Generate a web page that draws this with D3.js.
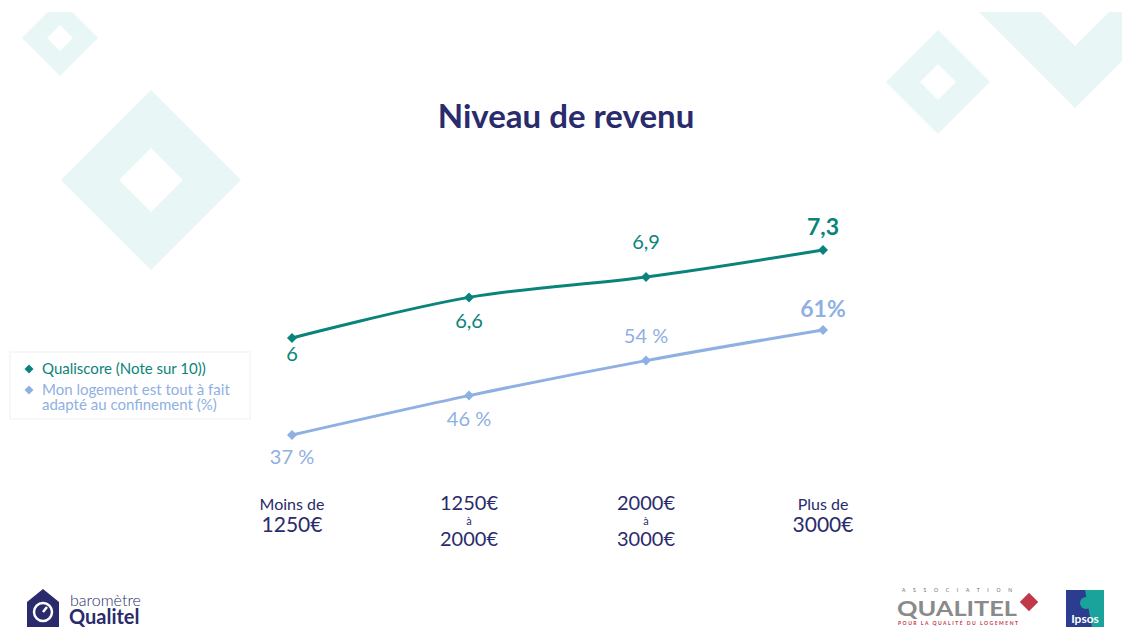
<!DOCTYPE html>
<html>
<head>
<meta charset="utf-8">
<script src="https://cdn.jsdelivr.net/npm/d3@7"></script>
<style>
  body { margin: 0; background: #fff; }
  svg { display: block; font-family: Lato, "Open Sans", sans-serif; }
</style>
</head>
<body>
<svg id="chart" width="1122" height="627"></svg>
<script>
// Data
var categories = ["Moins de|1250€", "1250€|à|2000€", "2000€|à|3000€", "Plus de|3000€"];
var qualiscore = [6, 6.6, 6.9, 7.3];
var qualiscoreLabels = ["6", "6,6", "6,9", "7,3"];
var adapte = [37, 46, 54, 61];
var adapteLabels = ["37 %", "46 %", "54 %", "61%"];
var seriesNames = ["Qualiscore (Note sur 10))", "Mon logement est tout à fait|adapté au confinement (%)"];

var navy = "#2a2b6c", teal = "#0a847a", light = "#8fb0e2", deco = "#e9f6f6";

var svg = d3.select("#chart");

// background decorations (hollow diamonds)
var bg = svg.append("g");
svg.append("defs").append("clipPath").attr("id", "frame")
  .append("rect").attr("x", 0).attr("y", 12).attr("width", 1122).attr("height", 615);
bg.attr("clip-path", "url(#frame)");
function hollow(cx, cy, r, h) {
  var p = "M" + cx + "," + (cy - r) + "L" + (cx + r) + "," + cy + "L" + cx + "," + (cy + r) + "L" + (cx - r) + "," + cy + "Z" +
          "M" + cx + "," + (cy - h) + "L" + (cx - h) + "," + cy + "L" + cx + "," + (cy + h) + "L" + (cx + h) + "," + cy + "Z";
  bg.append("path").attr("d", p).attr("fill", deco).attr("fill-rule", "evenodd");
}
hollow(60, 38, 38, 13);
hollow(151, 180, 90, 32);
hollow(938, 82, 52, 18);
hollow(1075, 10, 98, 36);

// title
svg.append("text")
  .attr("x", 566).attr("y", 128)
  .attr("text-anchor", "middle")
  .attr("font-size", 33).attr("font-weight", "bold")
  .attr("fill", navy)
  .text("Niveau de revenu");

// scales
var x = d3.scalePoint().domain(d3.range(categories.length)).range([292, 823]);
var yQ = d3.scaleLinear().domain([6, 7.3]).range([338, 250]);
var yA = d3.scaleLinear().domain([37, 61]).range([435, 330]);

var line = d3.line().curve(d3.curveCatmullRom);
var diamond = d3.symbol().type(d3.symbolSquare).size(50);

function drawSeries(values, y, color, labels, pos) {
  var pts = values.map(function(v, i) { return [x(i), y(v)]; });
  svg.append("path")
    .attr("d", line(pts))
    .attr("fill", "none")
    .attr("stroke", color)
    .attr("stroke-width", 3);
  svg.append("g").selectAll("path")
    .data(pts)
    .enter().append("path")
      .attr("d", diamond)
      .attr("transform", function(d) { return "translate(" + d[0] + "," + d[1] + ") rotate(45)"; })
      .attr("fill", color);
  svg.append("g").selectAll("text")
    .data(pts)
    .enter().append("text")
      .attr("x", function(d) { return d[0]; })
      .attr("y", function(d, i) { return d[1] + pos[i]; })
      .attr("text-anchor", "middle")
      .attr("font-size", function(d, i) { return i === pts.length - 1 ? 23 : 20; })
      .attr("font-weight", function(d, i) { return i === pts.length - 1 ? "bold" : "normal"; })
      .attr("fill", color)
      .text(function(d, i) { return labels[i]; });
}

drawSeries(qualiscore, yQ, teal, qualiscoreLabels, [23, 31, -28, -15]);
drawSeries(adapte, yA, light, adapteLabels, [29, 30, -18, -13]);

// category labels
var cat = svg.append("g").attr("fill", navy).attr("text-anchor", "middle");
categories.forEach(function(c, i) {
  var parts = c.split("|");
  var g = cat.append("g").attr("transform", "translate(" + x(i) + ",0)");
  if (parts.length === 2) {
    g.append("text").attr("y", 510).attr("font-size", 16).text(parts[0]);
    g.append("text").attr("y", 532).attr("font-size", 21).text(parts[1]);
  } else {
    g.append("text").attr("y", 510).attr("font-size", 20).text(parts[0]);
    g.append("text").attr("y", 525).attr("font-size", 11).text(parts[1]);
    g.append("text").attr("y", 546).attr("font-size", 20).text(parts[2]);
  }
});

// legend
var legend = svg.append("g");
legend.append("rect")
  .attr("x", 10).attr("y", 352).attr("width", 240).attr("height", 67)
  .attr("fill", "#fff").attr("stroke", "#f0f0f0");
[[teal, 369], [light, 390]].forEach(function(s, i) {
  legend.append("path")
    .attr("d", d3.symbol().type(d3.symbolSquare).size(40))
    .attr("transform", "translate(29," + s[1] + ") rotate(45)")
    .attr("fill", s[0]);
  var parts = seriesNames[i].split("|");
  parts.forEach(function(t, j) {
    legend.append("text")
      .attr("x", 42).attr("y", s[1] + 5 + j * 15)
      .attr("font-size", 15)
      .attr("fill", s[0])
      .text(t);
  });
});

// bottom left logo
var logo = svg.append("g");
logo.append("path")
  .attr("d", "M27,627 L27,602 L43,589 L59,602 L59,627 Z")
  .attr("fill", navy);
logo.append("circle").attr("cx", 43).attr("cy", 612).attr("r", 9)
  .attr("fill", "none").attr("stroke", "#fff").attr("stroke-width", 2.5);
logo.append("line").attr("x1", 43).attr("y1", 612).attr("x2", 47).attr("y2", 607)
  .attr("stroke", "#fff").attr("stroke-width", 2.5);
logo.append("text").attr("x", 70).attr("y", 606).attr("font-size", 16)
  .attr("fill", navy).attr("font-weight", 300).text("baromètre");
logo.append("text").attr("x", 69).attr("y", 624).attr("font-size", 20)
  .attr("fill", navy).attr("font-weight", "bold").text("Qualitel");

// bottom right logos
var asso = svg.append("g");
asso.append("text").attr("x", 957).attr("y", 592).attr("text-anchor", "middle")
  .attr("font-size", 5).attr("fill", "#666")
  .attr("textLength", 110).text("ASSOCIATION");
asso.append("text").attr("x", 897).attr("y", 616)
  .attr("font-size", 21).attr("font-weight", "bold").attr("fill", "#8a8a8a")
  .attr("textLength", 120).attr("lengthAdjust", "spacingAndGlyphs").text("QUALITEL");
asso.append("path")
  .attr("d", d3.symbol().type(d3.symbolSquare).size(170))
  .attr("transform", "translate(1029,602) rotate(45)")
  .attr("fill", "#c0394a");
asso.append("text").attr("x", 898).attr("y", 625)
  .attr("font-size", 5).attr("font-weight", "bold").attr("fill", "#c0394a")
  .attr("textLength", 120).text("POUR LA QUALITÉ DU LOGEMENT");

var ipsos = svg.append("g");
ipsos.append("rect").attr("x", 1066).attr("y", 590).attr("width", 38).attr("height", 37).attr("fill", "#2c3d8f");
ipsos.append("path").attr("d", "M1085,590 L1104,590 L1104,627 L1092,627 Z").attr("fill", "#1aa39a");
ipsos.append("circle").attr("cx", 1086).attr("cy", 603).attr("r", 6).attr("fill", "#1aa39a");
ipsos.append("text").attr("x", 1085).attr("y", 623).attr("text-anchor", "middle")
  .attr("font-size", 12).attr("font-weight", "bold").attr("fill", "#fff").text("Ipsos");
</script>
</body>
</html>
